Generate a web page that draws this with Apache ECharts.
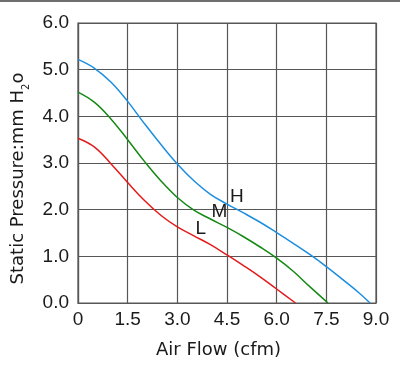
<!DOCTYPE html>
<html>
<head>
<meta charset="utf-8">
<script src="https://cdn.jsdelivr.net/npm/echarts@6/dist/echarts.min.js"></script>
<style>
html,body{margin:0;padding:0;background:#fff;}
#chart{width:400px;height:366px;}
</style>
</head>
<body>
<div id="chart"></div>
<script>
// Data
var xTickLabels = ['0', '1.5', '3.0', '4.5', '6.0', '7.5', '9.0'];
var yTickLabels = ['0.0', '1.0', '2.0', '3.0', '4.0', '5.0', '6.0'];

var hFlow = [0, 0.5, 1.0, 1.5, 2.0, 2.5, 3.0, 3.5, 4.0, 4.5, 5.0, 5.5, 6.0, 6.5, 7.0, 7.5, 8.0, 8.5, 8.82];
var hPressure = [5.22, 5.03, 4.73, 4.32, 3.85, 3.40, 2.98, 2.62, 2.33, 2.12, 1.93, 1.73, 1.51, 1.28, 1.04, 0.78, 0.50, 0.21, 0];

var mFlow = [0, 0.5, 1.0, 1.5, 2.0, 2.5, 3.0, 3.5, 4.0, 4.5, 5.0, 5.5, 6.0, 6.5, 7.0, 7.55];
var mPressure = [4.52, 4.30, 3.94, 3.50, 3.04, 2.62, 2.26, 1.99, 1.80, 1.62, 1.42, 1.20, 0.96, 0.68, 0.35, 0];

var lFlow = [0, 0.5, 1.0, 1.5, 2.0, 2.5, 3.0, 3.5, 4.0, 4.5, 5.0, 5.5, 6.0, 6.57];
var lPressure = [3.53, 3.34, 2.98, 2.58, 2.20, 1.88, 1.63, 1.44, 1.25, 1.03, 0.80, 0.56, 0.30, 0];

var curveNames = ['H', 'M', 'L'];
var curveColors = ['#1c8ee0', '#148a14', '#e31b1b'];
var labelPos = [[4.80, 2.27], [4.27, 1.96], [3.71, 1.60]];

function pairs(xs, ys) { return xs.map(function (x, i) { return [x, ys[i]]; }); }
var curves = [pairs(hFlow, hPressure), pairs(mFlow, mPressure), pairs(lFlow, lPressure)];

var textColor = '#1a1a1a';
var gridColor = '#575757';

var chart = echarts.init(document.getElementById('chart'), null, {renderer: 'canvas'});
chart.setOption({
  animation: false,
  backgroundColor: '#fff',
  graphic: [{
    type: 'line',
    shape: {x1: 0, y1: 1, x2: 400, y2: 1},
    style: {stroke: '#6e6e6e', lineWidth: 2}
  }],
  grid: {
    left: 78, right: 24, top: 23, bottom: 63,
    show: true, borderColor: gridColor, borderWidth: 1.2, containLabel: false
  },
  xAxis: {
    type: 'value', min: 0, max: 9, interval: 1.5,
    name: 'Air Flow (cfm)', nameLocation: 'middle', nameGap: 38,
    nameTextStyle: {fontFamily: 'DejaVu Sans', fontSize: 18, color: textColor, padding: [0, 17, 0, 0]},
    axisLine: {show: true, lineStyle: {color: gridColor, width: 1.2}},
    axisTick: {show: false},
    splitLine: {show: true, lineStyle: {color: gridColor, width: 1.2}},
    axisLabel: {
      margin: 7, fontFamily: 'Liberation Sans', fontSize: 19, color: textColor,
      formatter: function (v) { return xTickLabels[Math.round(v / 1.5)]; }
    }
  },
  yAxis: {
    type: 'value', min: 0, max: 6, interval: 1,
    name: '{a|Static Pressure:mm H}{s|2}{a|o}', nameLocation: 'middle', nameGap: 50, nameRotate: 90,
    nameTextStyle: {
      color: textColor, padding: [0, 31, 0, 0],
      rich: {
        a: {fontFamily: 'DejaVu Sans', fontSize: 18, color: textColor, verticalAlign: 'bottom', lineHeight: 22},
        s: {fontFamily: 'DejaVu Sans', fontSize: 10, color: textColor, verticalAlign: 'bottom', lineHeight: 22, padding: [0, 0, -4, 0]}
      }
    },
    axisLine: {show: true, lineStyle: {color: gridColor, width: 1.2}},
    axisTick: {show: false},
    splitLine: {show: true, lineStyle: {color: gridColor, width: 1.2}},
    axisLabel: {
      margin: 9, fontFamily: 'Liberation Sans', fontSize: 19, color: textColor,
      formatter: function (v) { return yTickLabels[Math.round(v)]; }
    }
  },
  series: curves.map(function (data, i) {
    return {
      name: curveNames[i],
      type: 'line',
      data: data,
      smooth: 0.4,
      showSymbol: false,
      symbol: 'none',
      lineStyle: {color: curveColors[i], width: 1.5},
      z: 3,
      markPoint: {
        symbol: 'circle', symbolSize: 0,
        label: {
          show: true, position: 'inside', formatter: curveNames[i],
          fontFamily: 'Liberation Sans', fontSize: 19, color: textColor
        },
        data: [{coord: labelPos[i]}]
      }
    };
  })
});
</script>
</body>
</html>
